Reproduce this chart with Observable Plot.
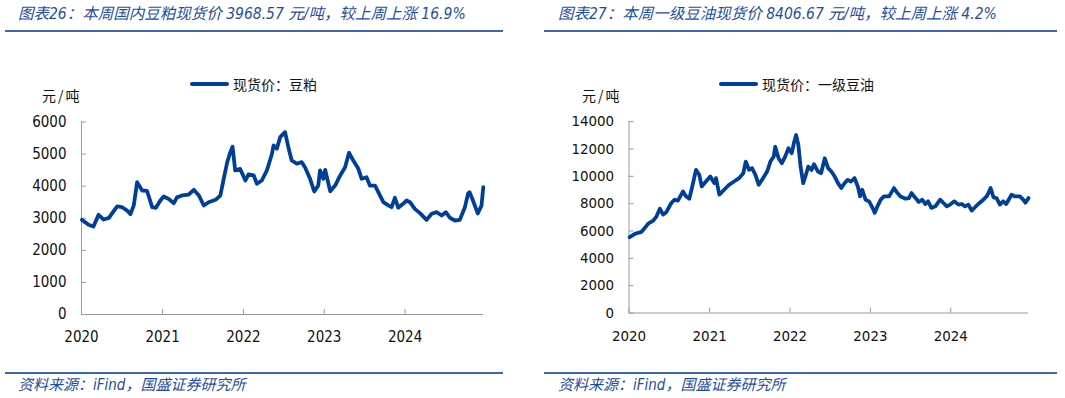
<!DOCTYPE html>
<html><head><meta charset="utf-8">
<script src="https://cdn.jsdelivr.net/npm/d3@7"></script>
<script src="https://cdn.jsdelivr.net/npm/@observablehq/plot@0.6"></script>
<style>
body{margin:0;background:#fff;}
#root{position:relative;width:1065px;height:398px;overflow:hidden;font-family:"Noto Sans CJK SC",sans-serif;}
.title,.src{position:absolute;font-style:italic;font-size:15.5px;line-height:20px;color:#1f4e9f;white-space:nowrap;font-family:"DejaVu Sans Condensed","Noto Sans CJK SC",sans-serif;}
.title{top:4px;}
.src{top:375px;font-size:15px;}
.rule{position:absolute;height:2px;background:#3d66ad;}
.legend{position:absolute;top:74px;height:20px;font-size:14px;line-height:20px;display:flex;align-items:center;color:#111;white-space:nowrap;}
.legend .sw{width:39px;height:4px;background:#003f98;border-radius:2px;margin-right:4px;}
.unit{position:absolute;top:85px;font-size:14px;line-height:20px;color:#111;letter-spacing:2px;white-space:nowrap;}
.chart{position:absolute;top:60px;}
</style>
</head><body>
<div id="root">
  <div class="title" style="left:18px">图表26：本周国内豆粕现货价 3968.57 元/吨，较上周上涨 16.9%</div>
  <div class="title" style="left:558px">图表27：本周一级豆油现货价 8406.67 元/吨，较上周上涨 4.2%</div>
  <div class="rule" style="left:5px;width:498px;top:30px"></div>
  <div class="rule" style="left:544px;width:513px;top:30px"></div>
  <div class="legend" style="left:190px"><span class="sw"></span><span>现货价：豆粕</span></div>
  <div class="legend" style="left:719px"><span class="sw"></span><span>现货价：一级豆油</span></div>
  <div class="unit" style="left:42px">元/吨</div>
  <div class="unit" style="left:582px">元/吨</div>
  <div class="chart" id="c1" style="left:0px"></div>
  <div class="chart" id="c2" style="left:548px"></div>
  <div class="rule" style="left:5px;width:498px;top:372px"></div>
  <div class="rule" style="left:544px;width:513px;top:372px"></div>
  <div class="src" style="left:18px">资料来源：iFind，国盛证券研究所</div>
  <div class="src" style="left:558px">资料来源：iFind，国盛证券研究所</div>
</div>
<script>
// 豆粕现货价 (元/吨)
const mealDates = ["2020-01-03","2020-02-02","2020-02-24","2020-03-18","2020-04-10","2020-05-04","2020-05-18","2020-06-10","2020-07-01","2020-07-25","2020-08-09","2020-08-24","2020-09-08","2020-10-01","2020-10-23","2020-11-15","2020-12-02","2020-12-22",
"2021-01-06","2021-01-29","2021-02-21","2021-03-07","2021-03-30","2021-04-29","2021-05-22","2021-06-14","2021-07-06","2021-07-28","2021-08-28","2021-09-19","2021-10-04","2021-10-20","2021-11-03","2021-11-13","2021-11-25","2021-12-17",
"2022-01-10","2022-01-24","2022-02-16","2022-03-03","2022-03-25","2022-04-17","2022-05-10","2022-05-17","2022-06-01","2022-06-16","2022-07-08","2022-07-23","2022-08-07","2022-08-30","2022-09-21","2022-10-06","2022-10-29","2022-11-17","2022-12-05","2022-12-13","2022-12-28",
"2023-01-05","2023-01-28","2023-02-19","2023-03-14","2023-04-05","2023-04-23","2023-05-12","2023-06-04","2023-06-19","2023-07-11","2023-07-26","2023-08-18","2023-09-02","2023-09-25","2023-10-17","2023-11-01","2023-11-16","2023-12-01","2023-12-23",
"2024-01-08","2024-01-23","2024-02-14","2024-03-08","2024-04-07","2024-04-30","2024-05-22","2024-06-14","2024-07-03","2024-07-21","2024-08-13","2024-09-04","2024-09-27","2024-10-12","2024-10-18","2024-10-30","2024-11-24","2024-12-11","2024-12-19"];
const mealValues = [2950,2800,2740,3107,2960,3010,3150,3370,3350,3240,3130,3400,4125,3865,3850,3345,3325,3553,
3678,3600,3470,3650,3710,3740,3887,3710,3398,3500,3575,3710,4230,4747,5060,5230,4490,4540,
4177,4370,4340,4074,4177,4490,5010,5268,5170,5527,5683,5215,4800,4700,4750,4590,4230,3834,4020,4490,4230,
4510,3843,4020,4333,4590,5040,4800,4540,4230,4280,4020,4020,3812,3500,3400,3345,3637,3330,3450,
3553,3500,3293,3160,2950,3140,3190,3085,3190,3015,2930,2950,3345,3780,3812,3616,3150,3395,3968.57];

// 一级豆油现货价 (元/吨)
const oilDates = ["2020-01-04","2020-01-28","2020-02-27","2020-03-13","2020-03-28","2020-04-20","2020-05-05","2020-05-20","2020-06-04","2020-06-19","2020-07-11","2020-07-26","2020-08-10","2020-09-02","2020-09-16","2020-10-01","2020-10-16","2020-10-31","2020-11-15","2020-11-26","2020-12-15",
"2021-01-04","2021-01-22","2021-01-30","2021-02-14","2021-03-08","2021-03-30","2021-04-22","2021-05-15","2021-06-03","2021-06-14","2021-06-29","2021-07-13","2021-07-28","2021-08-12","2021-09-01","2021-09-19","2021-10-04","2021-10-19","2021-10-26","2021-11-10","2021-11-25","2021-12-10","2021-12-25",
"2022-01-09","2022-01-20","2022-01-29","2022-02-08","2022-02-18","2022-03-02","2022-03-14","2022-03-25","2022-04-09","2022-04-20","2022-05-08","2022-05-22","2022-06-08","2022-06-23","2022-07-08","2022-07-23","2022-08-07","2022-08-22","2022-09-06","2022-09-20","2022-10-05","2022-10-21","2022-11-05","2022-11-15","2022-11-25","2022-12-10","2022-12-26",
"2023-01-11","2023-01-21","2023-02-02","2023-02-17","2023-03-04","2023-03-27","2023-04-18","2023-05-04","2023-05-18","2023-06-10","2023-06-25","2023-07-07","2023-07-25","2023-08-09","2023-08-24","2023-09-08","2023-09-20","2023-10-05","2023-10-23","2023-11-14","2023-11-29","2023-12-14","2023-12-29",
"2024-01-17","2024-02-05","2024-02-20","2024-03-06","2024-03-21","2024-04-05","2024-04-20","2024-05-05","2024-05-28","2024-06-12","2024-06-20","2024-06-30","2024-07-13","2024-07-27","2024-08-11","2024-08-26","2024-09-09","2024-10-03","2024-10-18","2024-11-10","2024-11-25","2024-12-05","2024-12-19"];
const oilValues = [5550,5795,5940,6230,6545,6765,7075,7635,7200,7395,8050,8290,8220,8895,8530,8365,9380,10470,10110,9260,9620,
9985,9505,9870,8655,9020,9380,9620,9870,10230,11080,10470,10590,10110,9380,9870,10350,11080,11440,12170,11320,10960,11440,12050,
11690,12530,13020,12290,10710,9505,10110,10710,10470,10890,10350,10230,11320,10600,10350,9985,9505,9140,9505,9745,9620,9870,9260,8530,9020,8290,8170,
7690,7325,7805,8290,8530,8530,9140,8775,8530,8365,8410,8775,8410,8120,8290,7975,8170,7690,7805,8290,8050,7805,7930,
8170,7930,7975,7805,7930,7490,7735,7975,8290,8530,8775,9140,8465,8410,7930,8170,7975,8655,8530,8530,8290,8068,8406.67];

const mealYTicks = [0,1000,2000,3000,4000,5000,6000];
const oilYTicks = [0,2000,4000,6000,8000,10000,12000,14000];
const yearTicks = ["2020","2021","2022","2023","2024"];
const xStart = "2020-01-01", xEnd = "2024-12-20";

function chart(dates, values, yTicks) {
  const W = 520, H = 300;
  const mL = 81, mR = W - 483, mT = 61.5, mB = H - 254;
  const plotW = W - mL - mR, plotH = H - mT - mB;
  const data = dates.map((d, i) => ({date: new Date(d), value: values[i]}));
  const xTickDates = yearTicks.map(y => new Date(y + "-01-01"));
  const x0 = new Date(xStart);
  const axisColor = "#9a9a9a";
  return Plot.plot({
    width: W, height: H,
    marginLeft: mL, marginRight: mR, marginTop: mT, marginBottom: mB,
    style: {fontFamily: '"DejaVu Sans Condensed","Liberation Sans",sans-serif', fontSize: "15px", color: "#111", background: "transparent", overflow: "visible"},
    x: {type: "utc", domain: [x0, new Date(xEnd)], label: null},
    y: {domain: [0, yTicks[yTicks.length - 1]], label: null},
    marks: [
      Plot.ruleY(yTicks, {stroke: axisColor, strokeWidth: 1, insetRight: plotW - 5}),
      Plot.ruleX(xTickDates, {stroke: axisColor, strokeWidth: 1, insetTop: plotH - 5}),
      Plot.ruleX([x0], {stroke: axisColor, strokeWidth: 1}),
      Plot.ruleY([0], {stroke: axisColor, strokeWidth: 1}),
      Plot.axisY({ticks: yTicks, tickSize: 0, tickPadding: 15, tickFormat: d => String(d), label: null}),
      Plot.axisX({ticks: xTickDates, tickSize: 0, tickPadding: 17, tickFormat: d => String(d.getUTCFullYear()), label: null}),
      Plot.line(data, {x: "date", y: "value", stroke: "#003f98", strokeWidth: 3.8, strokeLinejoin: "round", strokeLinecap: "round"})
    ]
  });
}
document.getElementById("c1").appendChild(chart(mealDates, mealValues, mealYTicks));
document.getElementById("c2").appendChild(chart(oilDates, oilValues, oilYTicks));
</script>
</body></html>
